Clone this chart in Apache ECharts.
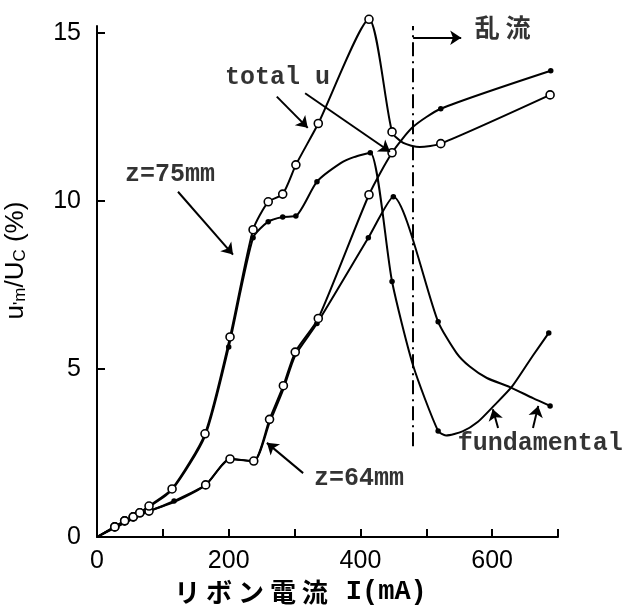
<!DOCTYPE html>
<html><head><meta charset="utf-8">
<script src="https://cdn.jsdelivr.net/npm/echarts@6/dist/echarts.min.js"></script>
<style>html,body{margin:0;padding:0;background:#fff}#c{width:643px;height:606px}</style>
</head><body><div id="c"></div>
<script>
// ---- data ----
// z = 75 mm, total u
const z75TotalX = [0, 27, 42, 55, 65, 79, 114, 164, 202, 237, 260, 282, 302, 336, 413, 448, 465, 490, 522, 688];
const z75TotalY = [0, 0.3, 0.48, 0.6, 0.72, 0.92, 1.43, 3.07, 5.95, 9.14, 9.97, 10.2, 11.07, 12.3, 15.4, 12.05, 11.72, 11.6, 11.7, 13.15];
const z75TotalM = ['', 'o', 'o', 'o', 'o', 'o', 'o', 'o', 'o', 'o', 'o', 'o', 'o', 'o', 'o', 'o', '', '', 'o', 'o'];
// z = 75 mm, fundamental
const z75FundX = [0, 40, 79, 114, 164, 200, 237, 260, 282, 302, 334, 370, 390, 415, 448, 480, 518, 530, 555, 578, 601, 630, 662, 686];
const z75FundY = [0, 0.45, 0.9, 1.4, 3.0, 5.65, 8.9, 9.38, 9.52, 9.55, 10.57, 11.12, 11.3, 11.43, 7.6, 5.1, 3.15, 3.02, 3.14, 3.42, 3.87, 4.47, 5.4, 6.07];
const z75FundM = ['', '', '', '', '', 'd', 'd', 'd', 'd', 'd', 'd', '', '', 'd', 'd', '', 'd', '', '', '', '', '', '', 'd'];
// z = 64 mm, total u
const z64TotalX = [0, 27, 42, 55, 65, 79, 117, 165, 202, 238, 262, 283, 301, 336, 413, 448, 480, 522, 689];
const z64TotalY = [0, 0.3, 0.48, 0.6, 0.72, 0.77, 1.07, 1.55, 2.32, 2.26, 3.5, 4.5, 5.5, 6.5, 10.18, 11.43, 12.2, 12.74, 13.87];
const z64TotalM = ['', 'o', 'o', 'o', 'o', 'o', 'd', 'o', 'o', 'o', 'o', 'o', 'o', 'o', 'o', 'o', '', 'd', 'd'];
// z = 64 mm, fundamental
const z64FundX = [0, 79, 117, 165, 202, 238, 262, 283, 301, 334, 412, 450, 518, 546, 566, 592, 627, 662, 688];
const z64FundY = [0, 0.77, 1.04, 1.55, 2.32, 2.26, 3.4, 4.4, 5.4, 6.35, 8.9, 10.12, 6.4, 5.47, 5.07, 4.73, 4.46, 4.13, 3.9];
const z64FundM = ['', '', '', '', '', '', '', '', '', 'd', 'd', 'd', 'd', '', '', '', '', '', 'd'];

// tick labels
const xTickLabels = [0, 200, 400, 600];
const xTicks = [100, 200, 300, 400, 500, 600, 700];
const yTickLabels = [0, 5, 10, 15];
const yTicks = [5, 10, 15];

// annotations (data coordinates)
const noteTexts = ['total u', 'z=75mm', 'z=64mm', 'fundamental', '乱 流'];
const noteX = [274, 111, 398, 673, 616];
const noteY = [13.65, 10.77, 1.73, 2.78, 15.15];
// arrows: [x1, y1, x2, y2]
const arrows = [
  [273, 13.1, 320, 12.17],
  [316, 13.2, 445, 11.46],
  [123, 10.27, 206.5, 8.4],
  [313, 1.9, 258, 2.8],
  [609, 3.24, 601, 3.8],
  [662, 3.24, 670, 3.9],
  [480, 14.85, 553, 14.85]
];
const turbX = 480;          // dash-dot boundary
const turbY = [2.7, 15.2];

// ---- chart ----
const chart = echarts.init(document.getElementById('c'));
const MONO = 'Liberation Mono';
const SANS = 'Liberation Sans';

function points(xs, ys, ms) {
  return xs.map((x, i) => {
    const m = ms[i];
    return {
      value: [x, ys[i]],
      symbol: m ? 'circle' : 'none',
      symbolSize: m === 'o' ? 8 : 5.5,
      itemStyle: m === 'o'
        ? { color: '#fff', borderColor: '#000', borderWidth: 1.6 }
        : { color: '#000', borderWidth: 0 }
    };
  });
}
function lineSeries(name, xs, ys, ms, z) {
  return {
    name, type: 'line', z,
    data: points(xs, ys, ms),
    smooth: 0.22,
    showAllSymbol: true,
    lineStyle: { color: '#000', width: 2 },
    emphasis: { disabled: true },
    silent: true, animation: false
  };
}

const arrowLines = arrows.map(a => [
  { coord: [a[0], a[1]], symbol: 'none' },
  { coord: [a[2], a[3]], symbol: 'arrow' }
]);
arrowLines.push([
  { coord: [turbX, turbY[0]], symbol: 'none', lineStyle: { type: [14, 5, 2, 5], width: 2, color: '#000' } },
  { coord: [turbX, turbY[1]], symbol: 'none' }
]);

const option = {
  backgroundColor: '#fff',
  animation: false,
  grid: { left: 97, right: 85, top: 26, bottom: 69, containLabel: false, outerBoundsMode: 'none' },
  xAxis: {
    type: 'value', min: 0, max: 700, interval: 100,
    axisLine: { show: true, lineStyle: { color: '#000', width: 2 } },
    axisTick: { show: true, inside: true, length: 8, lineStyle: { color: '#000', width: 2 }, customValues: xTicks },
    axisLabel: { customValues: xTickLabels, color: '#000', fontFamily: SANS, fontSize: 25, margin: 12 },
    splitLine: { show: false },
    name: '{j|リ ボ ン 電 流}{m|I(mA)}',
    nameLocation: 'middle', nameGap: 38,
    nameTextStyle: {
      padding: [0, 54, 0, 0],
      rich: {
        j: { fontFamily: 'Noto Sans CJK JP', fontWeight: 'bold', fontSize: 26, color: '#000' },
        m: { fontFamily: MONO, fontWeight: 'bold', fontSize: 27, color: '#000', padding: [0, 0, 0, 18] }
      }
    }
  },
  yAxis: {
    type: 'value', min: 0, max: 15.2, interval: 5,
    axisLine: { show: true, lineStyle: { color: '#000', width: 2 } },
    axisTick: { show: true, inside: true, length: 8, lineStyle: { color: '#000', width: 2 }, customValues: yTicks },
    axisLabel: { customValues: yTickLabels, color: '#000', fontFamily: SANS, fontSize: 25, margin: 16 },
    splitLine: { show: false },
    name: "{a|u}{s|'m}{a|/U}{s|C}{a| (%)}",
    nameLocation: 'middle', nameGap: 68,
    nameTextStyle: {
      padding: [0, 0, 0, 42],
      rich: {
        a: { fontFamily: SANS, fontSize: 26, color: '#000' },
        s: { fontFamily: SANS, fontSize: 17, color: '#000', verticalAlign: 'bottom' }
      }
    }
  },
  series: [
    lineSeries('z=64 fundamental', z64FundX, z64FundY, z64FundM, 2),
    lineSeries('z=75 fundamental', z75FundX, z75FundY, z75FundM, 2),
    lineSeries('z=64 total u', z64TotalX, z64TotalY, z64TotalM, 3),
    Object.assign(lineSeries('z=75 total u', z75TotalX, z75TotalY, z75TotalM, 3), {
      clip: false,
      markLine: {
        silent: true, animation: false,
        symbolSize: 11,
        label: { show: false },
        lineStyle: { color: '#000', width: 2, type: 'solid' },
        emphasis: { disabled: true },
        data: arrowLines
      }
    }),
    {
      name: 'notes', type: 'scatter', symbolSize: 0, silent: true, z: 5,
      data: noteTexts.map((t, i) => ({
        value: [noteX[i], noteY[i]], name: t,
        label: t === '乱 流'
          ? { fontFamily: 'Noto Sans CJK JP', fontWeight: 'bold', fontSize: 25 }
          : { fontFamily: MONO, fontWeight: 'bold', fontSize: 25 }
      })),
      label: { show: true, position: 'inside', color: '#000', formatter: p => p.name },
      clip: false
    }
  ]
};
chart.setOption(option);
</script>
</body></html>
